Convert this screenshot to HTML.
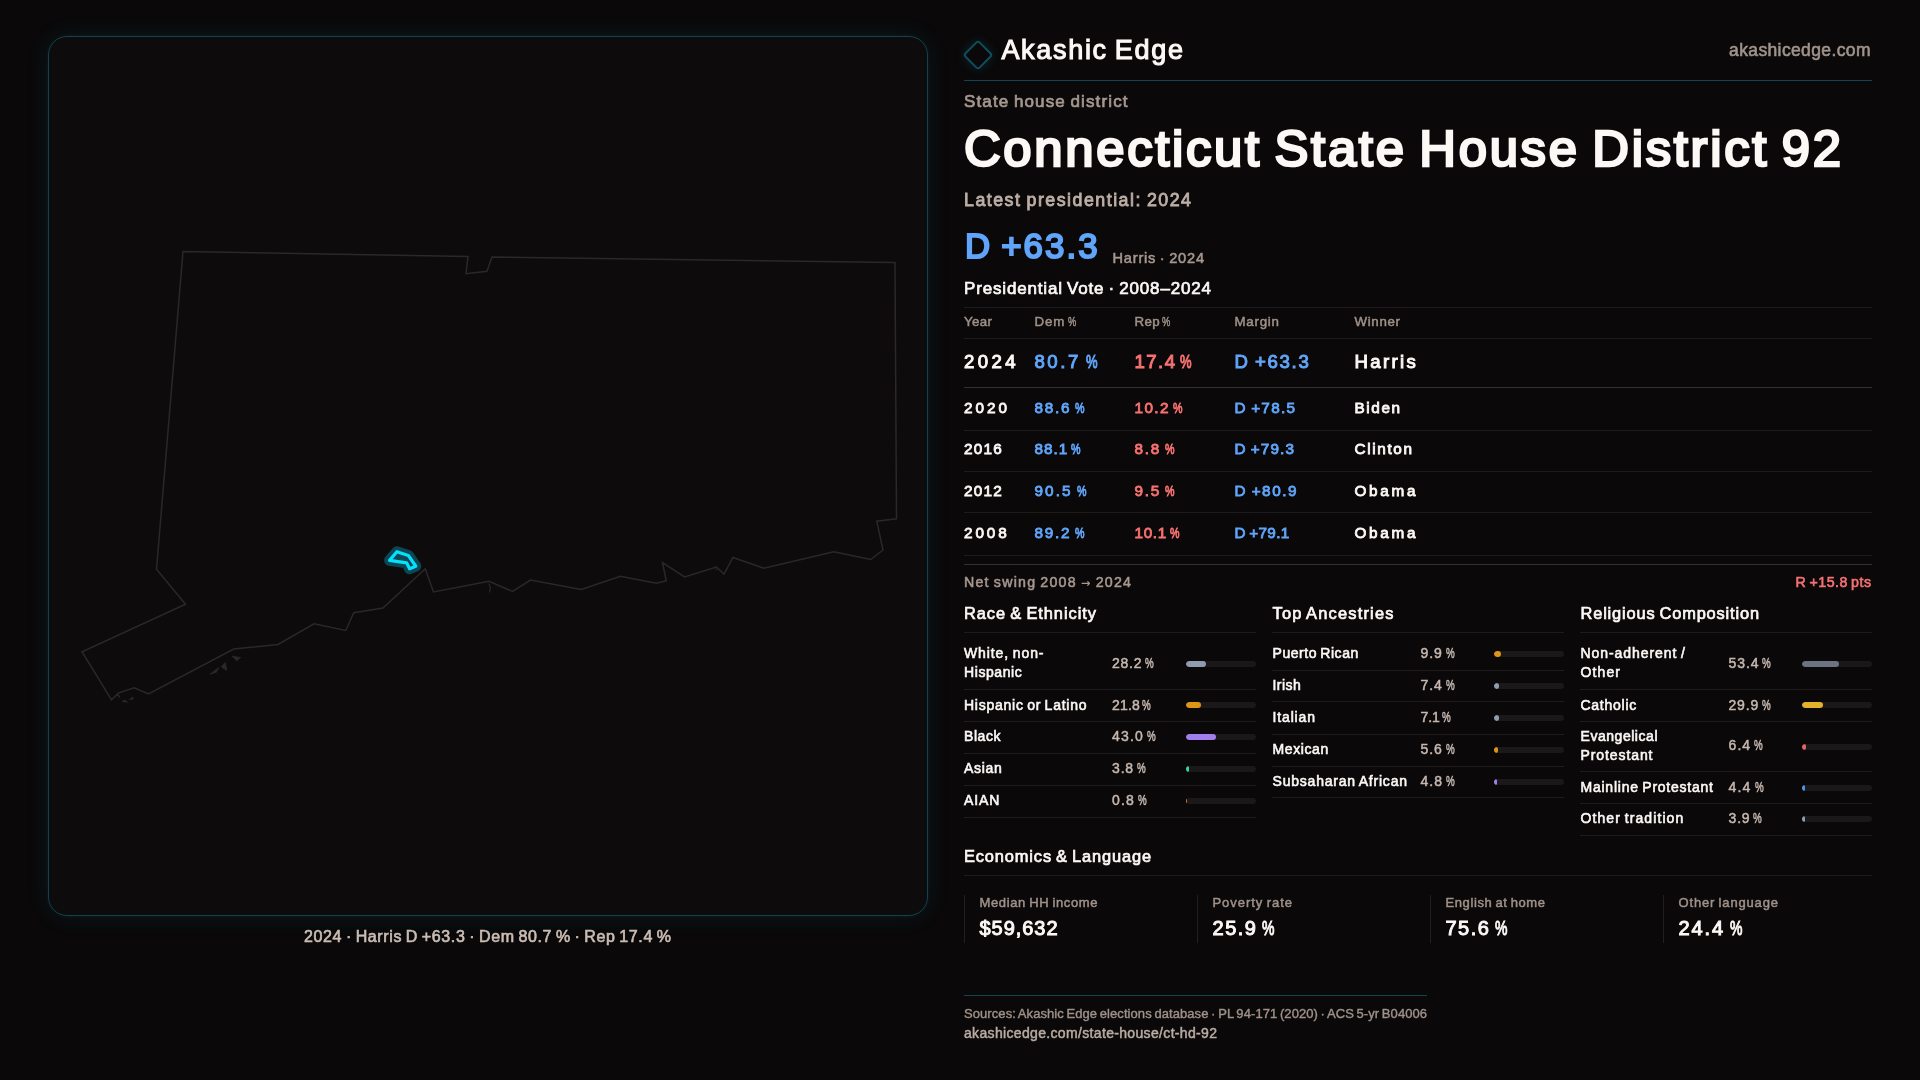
<!DOCTYPE html>
<html lang="en">
<head>
<meta charset="utf-8">
<title>Connecticut State House District 92 · Akashic Edge</title>
<style>
html,body{margin:0;padding:0}
body{width:1920px;height:1080px;overflow:hidden;background:#0a0809;position:relative;font-family:"Liberation Sans", sans-serif;color:#fbf8f5}
.t{position:absolute;white-space:nowrap;line-height:1;margin:0;font-weight:normal;paint-order:stroke fill;word-spacing:-.08em}
.pc{display:inline-block;transform:scaleX(.7);transform-origin:0 50%;margin-right:-.267em}
.ws{word-spacing:-.14em}
.ar{font-family:"DejaVu Sans","Liberation Sans",sans-serif;font-weight:bold;font-size:.8em;-webkit-text-stroke:0;position:relative;top:-.04em}
.ln{position:absolute;height:1px}
.trk{position:absolute;width:70px;height:6px;border-radius:3px;background:#1b1819;overflow:hidden}
.trk i{display:block;height:6px;border-radius:3px}
.cell{position:absolute;top:894.5px;height:48px;width:1px;background:#221f20}
#map{position:absolute;left:48px;top:36px;width:878px;height:878px;border:1px solid #0f4350;border-radius:19px;background:#0d0b0c;box-shadow:0 0 26px rgba(34,211,238,.085),0 0 5px rgba(34,211,238,.06)}
#logo{position:absolute;left:966.7px;top:44px;width:18px;height:18px;border:2px solid #0f4e5d;border-radius:3.5px;transform:rotate(45deg);box-shadow:0 0 12px rgba(34,211,238,.15)}
svg{position:absolute;left:0;top:0}
#root{position:absolute;left:0;top:0;width:1920px;height:1080px;will-change:transform}

</style>
</head>
<body>
<div id="root">
<div id="map"></div>
<svg width="1920" height="1080" viewBox="0 0 1920 1080" fill="none">
<g stroke="#2c2828" stroke-width="1.5" stroke-linejoin="miter" stroke-linecap="butt">
<path d="M183 251.5 L468 256.5 L466 273.75 L487 271.25 L492 257 L895 262.5 L896.5 518.75 L876.75 521.25 L883 550 L870.75 559.5 L833.75 551.75 L763.75 568.25 L733 557.5 L724 574 L716.25 567 L684.5 577 L662.5 562.5 L666.25 581 L656.25 583.25 L620.5 576.25 L581.25 589.5 L530.5 580 L512.5 591.5 L489 581.25 L433.5 592 L425.25 568.75 L383 608 L353.75 612.75 L345.75 630.5 L314 623.75 L278 644.5 L233.75 649 L148.5 694 L134.2 687.7 L118.75 692.9 L111.5 699.9 L82 651.75 L185.5 604.25 L156.5 569.25 Z"/>
<g fill="#2c2828" stroke-width="0.8">
<path d="M232.1 656.2 L240.8 657.5 L236.7 660.8 Z"/>
<path d="M221.2 666.7 L225.4 662.5 L226.7 670.4 Z"/>
<path d="M210 674.2 L218.7 667.5 L216.7 672.1 Z"/>
<path d="M116.2 694.6 L118.7 695 L120 697.5 Z"/>
<path d="M122.1 701.7 L124.2 700 L127.5 702.1 Z"/>
<path d="M129.6 699.6 L132.9 697.1 L133.3 698.8 Z"/>
</g>
<path d="M489 583.5 L490.3 588 L489.6 592.5" stroke-width="1.2"/>
<path d="M715.5 568.5 L716.6 570.5" stroke-width="1"/>
</g>
<g stroke-linejoin="round">
<path d="M396.9 551.7 L408.3 555.4 L415.8 566.25 L409.6 568.75 L406.7 562.9 L389.6 560.4 Z" stroke="#0b4655" stroke-width="11"/>
<path d="M396.9 551.7 L408.3 555.4 L415.8 566.25 L409.6 568.75 L406.7 562.9 L389.6 560.4 Z" fill="#0f4656" stroke="#06e0fb" stroke-width="3.2"/>
</g>
</svg>

<div id="logo"></div>
<div class="ln" style="left:964px;top:79.50px;width:908px;background:#10444f"></div>
<div class="ln" style="left:964px;top:307.00px;width:908px;background:#1e1b1c"></div>
<div class="ln" style="left:964px;top:338.00px;width:908px;background:#1e1b1c"></div>
<div class="ln" style="left:964px;top:386.75px;width:908px;background:#353132"></div>
<div class="ln" style="left:964px;top:430.00px;width:908px;background:#1e1b1c"></div>
<div class="ln" style="left:964px;top:470.75px;width:908px;background:#1e1b1c"></div>
<div class="ln" style="left:964px;top:512.00px;width:908px;background:#1e1b1c"></div>
<div class="ln" style="left:964px;top:555.00px;width:908px;background:#1e1b1c"></div>
<div class="ln" style="left:964px;top:564.00px;width:908px;background:#353132"></div>
<div class="ln" style="left:964px;top:632.00px;width:292px;background:#1e1b1c"></div>
<div class="ln" style="left:1272px;top:632.00px;width:292px;background:#1e1b1c"></div>
<div class="ln" style="left:1580px;top:632.00px;width:292px;background:#1e1b1c"></div>
<div class="ln" style="left:964px;top:688.75px;width:292px;background:#1e1b1c"></div>
<div class="ln" style="left:964px;top:720.75px;width:292px;background:#1e1b1c"></div>
<div class="ln" style="left:964px;top:752.75px;width:292px;background:#1e1b1c"></div>
<div class="ln" style="left:964px;top:784.50px;width:292px;background:#1e1b1c"></div>
<div class="ln" style="left:964px;top:816.50px;width:292px;background:#1e1b1c"></div>
<div class="ln" style="left:1272px;top:669.50px;width:292px;background:#1e1b1c"></div>
<div class="ln" style="left:1272px;top:701.25px;width:292px;background:#1e1b1c"></div>
<div class="ln" style="left:1272px;top:733.50px;width:292px;background:#1e1b1c"></div>
<div class="ln" style="left:1272px;top:765.50px;width:292px;background:#1e1b1c"></div>
<div class="ln" style="left:1272px;top:796.75px;width:292px;background:#1e1b1c"></div>
<div class="ln" style="left:1580px;top:688.75px;width:292px;background:#1e1b1c"></div>
<div class="ln" style="left:1580px;top:720.75px;width:292px;background:#1e1b1c"></div>
<div class="ln" style="left:1580px;top:771.00px;width:292px;background:#1e1b1c"></div>
<div class="ln" style="left:1580px;top:803.25px;width:292px;background:#1e1b1c"></div>
<div class="ln" style="left:1580px;top:834.75px;width:292px;background:#1e1b1c"></div>
<div class="ln" style="left:964px;top:875.00px;width:908px;background:#1e1b1c"></div>
<div class="ln" style="left:964px;top:994.50px;width:463px;background:#10444f"></div>
<div class="cell" style="left:964px"></div>
<div class="cell" style="left:1197px"></div>
<div class="cell" style="left:1430px"></div>
<div class="cell" style="left:1663px"></div>
<div class="trk" style="left:1186px;top:660.75px"><i style="width:19.74px;background:#8e9bb0"></i></div>
<div class="trk" style="left:1186px;top:702.00px"><i style="width:15.26px;background:#de9416"></i></div>
<div class="trk" style="left:1186px;top:734.00px"><i style="width:30.10px;background:#a07fec"></i></div>
<div class="trk" style="left:1186px;top:766.00px"><i style="width:2.66px;background:#34d399"></i></div>
<div class="trk" style="left:1186px;top:798.00px"><i style="width:1.00px;background:#d97706"></i></div>
<div class="trk" style="left:1494px;top:651.00px"><i style="width:6.93px;background:#de9416"></i></div>
<div class="trk" style="left:1494px;top:683.00px"><i style="width:5.18px;background:#8e9bb0"></i></div>
<div class="trk" style="left:1494px;top:715.00px"><i style="width:4.97px;background:#8e9bb0"></i></div>
<div class="trk" style="left:1494px;top:747.00px"><i style="width:3.92px;background:#de9416"></i></div>
<div class="trk" style="left:1494px;top:779.00px"><i style="width:3.36px;background:#a07fec"></i></div>
<div class="trk" style="left:1802px;top:660.75px"><i style="width:37.38px;background:#6b7280"></i></div>
<div class="trk" style="left:1802px;top:702.00px"><i style="width:20.93px;background:#e3b22a"></i></div>
<div class="trk" style="left:1802px;top:743.75px"><i style="width:4.48px;background:#e06666"></i></div>
<div class="trk" style="left:1802px;top:785.25px"><i style="width:3.08px;background:#4f94e8"></i></div>
<div class="trk" style="left:1802px;top:815.75px"><i style="width:2.73px;background:#8e9bb0"></i></div>
<header id="header">
<div class="t" style="font-size:27px;color:#fbf8f5;top:36.94px;left:1001.4px;letter-spacing:1.695px;-webkit-text-stroke:1.1px #fbf8f5;">Akashic Edge</div>
<div class="t" style="font-size:17.5px;color:#a0938c;top:41.79px;right:49.12px;letter-spacing:0.378px;-webkit-text-stroke:0.6px #a0938c;">akashicedge.com</div>
</header>
<section id="summary">
<div class="t" style="font-size:17px;color:#a6978f;top:93.11px;left:964px;letter-spacing:1.139px;-webkit-text-stroke:0.7px #a6978f;">State house district</div>
<h1 class="t" style="font-size:50.8px;color:#fbf8f5;top:123.50px;left:964px;letter-spacing:2.688px;-webkit-text-stroke:2.6px #fbf8f5;">Connecticut State House District 92</h1>
<div class="t" style="font-size:17.8px;color:#bdaea6;top:192.43px;left:964px;letter-spacing:1.504px;-webkit-text-stroke:0.85px #bdaea6;">Latest presidential: 2024</div>
<div class="t" style="font-size:34.8px;color:#60a5fa;top:229.29px;left:965px;letter-spacing:2.073px;-webkit-text-stroke:2.0px #60a5fa;">D +63.3</div>
<div class="t" style="font-size:14.6px;color:#a6978f;top:250.89px;left:1112.5px;letter-spacing:0.790px;-webkit-text-stroke:0.55px #a6978f;">Harris · 2024</div>
</section>
<section id="presidential">
<h2 class="t" style="font-size:17px;color:#fbf8f5;top:280.11px;left:964px;letter-spacing:0.832px;-webkit-text-stroke:0.7px #fbf8f5;">Presidential Vote · 2008–2024</h2>
<div class="t" style="font-size:13.3px;color:#9f9189;top:315.49px;left:964px;letter-spacing:0.375px;-webkit-text-stroke:0.5px #9f9189;">Year</div>
<div class="t ws" style="font-size:13.3px;color:#9f9189;top:315.49px;left:1034.5px;letter-spacing:0.824px;-webkit-text-stroke:0.5px #9f9189;">Dem <span class="pc">%</span></div>
<div class="t ws" style="font-size:13.3px;color:#9f9189;top:315.49px;left:1134.5px;letter-spacing:0.371px;-webkit-text-stroke:0.5px #9f9189;">Rep <span class="pc">%</span></div>
<div class="t" style="font-size:13.3px;color:#9f9189;top:315.49px;left:1234.5px;letter-spacing:0.769px;-webkit-text-stroke:0.5px #9f9189;">Margin</div>
<div class="t" style="font-size:13.3px;color:#9f9189;top:315.49px;left:1354.5px;letter-spacing:0.675px;-webkit-text-stroke:0.5px #9f9189;">Winner</div>
<div class="t" style="font-size:18.6px;color:#fbf8f5;top:353.01px;left:964px;letter-spacing:3.375px;-webkit-text-stroke:1.0px #fbf8f5;">2024</div>
<div class="t ws" style="font-size:18.6px;color:#60a5fa;top:353.01px;left:1034.5px;letter-spacing:2.528px;-webkit-text-stroke:1.0px #60a5fa;">80.7 <span class="pc">%</span></div>
<div class="t ws" style="font-size:18.6px;color:#f87171;top:353.01px;left:1134.5px;letter-spacing:1.428px;-webkit-text-stroke:1.0px #f87171;">17.4 <span class="pc">%</span></div>
<div class="t" style="font-size:18.6px;color:#60a5fa;top:353.01px;left:1234.5px;letter-spacing:1.682px;-webkit-text-stroke:1.0px #60a5fa;">D +63.3</div>
<div class="t" style="font-size:18.6px;color:#fbf8f5;top:353.01px;left:1354.5px;letter-spacing:2.331px;-webkit-text-stroke:1.0px #fbf8f5;">Harris</div>
<div class="t" style="font-size:15.3px;color:#fbf8f5;top:399.55px;left:964px;letter-spacing:2.990px;-webkit-text-stroke:0.85px #fbf8f5;">2020</div>
<div class="t ws" style="font-size:15.3px;color:#60a5fa;top:399.55px;left:1034.5px;letter-spacing:1.716px;-webkit-text-stroke:0.85px #60a5fa;">88.6 <span class="pc">%</span></div>
<div class="t ws" style="font-size:15.3px;color:#f87171;top:399.55px;left:1134.5px;letter-spacing:1.416px;-webkit-text-stroke:0.85px #f87171;">10.2 <span class="pc">%</span></div>
<div class="t" style="font-size:15.3px;color:#60a5fa;top:399.55px;left:1234.5px;letter-spacing:1.286px;-webkit-text-stroke:0.85px #60a5fa;">D +78.5</div>
<div class="t" style="font-size:15.3px;color:#fbf8f5;top:399.55px;left:1354.5px;letter-spacing:1.594px;-webkit-text-stroke:0.85px #fbf8f5;">Biden</div>
<div class="t" style="font-size:15.3px;color:#fbf8f5;top:440.55px;left:964px;letter-spacing:1.240px;-webkit-text-stroke:0.85px #fbf8f5;">2016</div>
<div class="t ws" style="font-size:15.3px;color:#60a5fa;top:440.55px;left:1034.5px;letter-spacing:1.016px;-webkit-text-stroke:0.85px #60a5fa;">88.1 <span class="pc">%</span></div>
<div class="t ws" style="font-size:15.3px;color:#f87171;top:440.55px;left:1134.5px;letter-spacing:1.711px;-webkit-text-stroke:0.85px #f87171;">8.8 <span class="pc">%</span></div>
<div class="t" style="font-size:15.3px;color:#60a5fa;top:440.55px;left:1234.5px;letter-spacing:1.120px;-webkit-text-stroke:0.85px #60a5fa;">D +79.3</div>
<div class="t" style="font-size:15.3px;color:#fbf8f5;top:440.55px;left:1354.5px;letter-spacing:1.646px;-webkit-text-stroke:0.85px #fbf8f5;">Clinton</div>
<div class="t" style="font-size:15.3px;color:#fbf8f5;top:483.05px;left:964px;letter-spacing:1.240px;-webkit-text-stroke:0.85px #fbf8f5;">2012</div>
<div class="t ws" style="font-size:15.3px;color:#60a5fa;top:483.05px;left:1034.5px;letter-spacing:2.116px;-webkit-text-stroke:0.85px #60a5fa;">90.5 <span class="pc">%</span></div>
<div class="t ws" style="font-size:15.3px;color:#f87171;top:483.05px;left:1134.5px;letter-spacing:1.711px;-webkit-text-stroke:0.85px #f87171;">9.5 <span class="pc">%</span></div>
<div class="t" style="font-size:15.3px;color:#60a5fa;top:483.05px;left:1234.5px;letter-spacing:1.536px;-webkit-text-stroke:0.85px #60a5fa;">D +80.9</div>
<div class="t" style="font-size:15.3px;color:#fbf8f5;top:483.05px;left:1354.5px;letter-spacing:2.707px;-webkit-text-stroke:0.85px #fbf8f5;">Obama</div>
<div class="t" style="font-size:15.3px;color:#fbf8f5;top:525.05px;left:964px;letter-spacing:2.906px;-webkit-text-stroke:0.85px #fbf8f5;">2008</div>
<div class="t ws" style="font-size:15.3px;color:#60a5fa;top:525.05px;left:1034.5px;letter-spacing:1.716px;-webkit-text-stroke:0.85px #60a5fa;">89.2 <span class="pc">%</span></div>
<div class="t ws" style="font-size:15.3px;color:#f87171;top:525.05px;left:1134.5px;letter-spacing:0.666px;-webkit-text-stroke:0.85px #f87171;">10.1 <span class="pc">%</span></div>
<div class="t" style="font-size:15.3px;color:#60a5fa;top:525.05px;left:1234.5px;letter-spacing:0.328px;-webkit-text-stroke:0.85px #60a5fa;">D +79.1</div>
<div class="t" style="font-size:15.3px;color:#fbf8f5;top:525.05px;left:1354.5px;letter-spacing:2.707px;-webkit-text-stroke:0.85px #fbf8f5;">Obama</div>
<div class="t" style="font-size:14.2px;color:#a6978f;top:575.48px;left:964px;letter-spacing:1.238px;-webkit-text-stroke:0.55px #a6978f;">Net swing 2008 <span class="ar">→</span> 2024</div>
<div class="t" style="font-size:14.2px;color:#f87171;top:575.48px;right:48.52px;letter-spacing:0.481px;-webkit-text-stroke:0.6px #f87171;">R +15.8 pts</div>
</section>
<section id="race">
<h2 class="t" style="font-size:16.4px;color:#fbf8f5;top:604.62px;left:964px;letter-spacing:0.958px;-webkit-text-stroke:0.7px #fbf8f5;">Race &amp; Ethnicity</h2>
<div class="t" style="font-size:14px;color:#fbf8f5;top:645.90px;left:964px;letter-spacing:0.903px;-webkit-text-stroke:0.6px #fbf8f5;">White, non-</div>
<div class="t" style="font-size:14px;color:#fbf8f5;top:664.65px;left:964px;letter-spacing:0.578px;-webkit-text-stroke:0.6px #fbf8f5;">Hispanic</div>
<div class="t ws" style="font-size:14px;color:#c6b8b0;top:656.15px;left:1112px;letter-spacing:0.769px;-webkit-text-stroke:0.5px #c6b8b0;">28.2 <span class="pc">%</span></div>
<div class="t" style="font-size:14px;color:#fbf8f5;top:698.15px;left:964px;letter-spacing:0.745px;-webkit-text-stroke:0.6px #fbf8f5;">Hispanic or Latino</div>
<div class="t ws" style="font-size:14px;color:#c6b8b0;top:698.15px;left:1112px;letter-spacing:0.169px;-webkit-text-stroke:0.5px #c6b8b0;">21.8 <span class="pc">%</span></div>
<div class="t" style="font-size:14px;color:#fbf8f5;top:728.90px;left:964px;letter-spacing:0.566px;-webkit-text-stroke:0.6px #fbf8f5;">Black</div>
<div class="t ws" style="font-size:14px;color:#c6b8b0;top:728.90px;left:1112px;letter-spacing:1.169px;-webkit-text-stroke:0.5px #c6b8b0;">43.0 <span class="pc">%</span></div>
<div class="t" style="font-size:14px;color:#fbf8f5;top:760.90px;left:964px;letter-spacing:0.680px;-webkit-text-stroke:0.6px #fbf8f5;">Asian</div>
<div class="t ws" style="font-size:14px;color:#c6b8b0;top:760.90px;left:1112px;letter-spacing:0.844px;-webkit-text-stroke:0.5px #c6b8b0;">3.8 <span class="pc">%</span></div>
<div class="t" style="font-size:14px;color:#fbf8f5;top:792.65px;left:964px;letter-spacing:0.854px;-webkit-text-stroke:0.6px #fbf8f5;">AIAN</div>
<div class="t ws" style="font-size:14px;color:#c6b8b0;top:792.65px;left:1112px;letter-spacing:1.219px;-webkit-text-stroke:0.5px #c6b8b0;">0.8 <span class="pc">%</span></div>
</section>
<section id="ancestry">
<h2 class="t" style="font-size:16.4px;color:#fbf8f5;top:604.62px;left:1272.5px;letter-spacing:1.208px;-webkit-text-stroke:0.7px #fbf8f5;">Top Ancestries</h2>
<div class="t" style="font-size:14px;color:#fbf8f5;top:645.65px;left:1272.5px;letter-spacing:0.540px;-webkit-text-stroke:0.6px #fbf8f5;">Puerto Rican</div>
<div class="t ws" style="font-size:14px;color:#c6b8b0;top:645.65px;left:1420.5px;letter-spacing:0.906px;-webkit-text-stroke:0.5px #c6b8b0;">9.9 <span class="pc">%</span></div>
<div class="t" style="font-size:14px;color:#fbf8f5;top:677.65px;left:1272.5px;letter-spacing:0.449px;-webkit-text-stroke:0.6px #fbf8f5;">Irish</div>
<div class="t ws" style="font-size:14px;color:#c6b8b0;top:677.65px;left:1420.5px;letter-spacing:0.906px;-webkit-text-stroke:0.5px #c6b8b0;">7.4 <span class="pc">%</span></div>
<div class="t" style="font-size:14px;color:#fbf8f5;top:709.65px;left:1272.5px;letter-spacing:0.857px;-webkit-text-stroke:0.6px #fbf8f5;">Italian</div>
<div class="t ws" style="font-size:14px;color:#c6b8b0;top:709.65px;left:1420.5px;letter-spacing:-0.031px;-webkit-text-stroke:0.5px #c6b8b0;">7.1 <span class="pc">%</span></div>
<div class="t" style="font-size:14px;color:#fbf8f5;top:741.65px;left:1272.5px;letter-spacing:0.602px;-webkit-text-stroke:0.6px #fbf8f5;">Mexican</div>
<div class="t ws" style="font-size:14px;color:#c6b8b0;top:741.65px;left:1420.5px;letter-spacing:0.906px;-webkit-text-stroke:0.5px #c6b8b0;">5.6 <span class="pc">%</span></div>
<div class="t" style="font-size:14px;color:#fbf8f5;top:773.65px;left:1272.5px;letter-spacing:0.790px;-webkit-text-stroke:0.6px #fbf8f5;">Subsaharan African</div>
<div class="t ws" style="font-size:14px;color:#c6b8b0;top:773.65px;left:1420.5px;letter-spacing:1.031px;-webkit-text-stroke:0.5px #c6b8b0;">4.8 <span class="pc">%</span></div>
</section>
<section id="religion">
<h2 class="t" style="font-size:16.4px;color:#fbf8f5;top:604.62px;left:1580.5px;letter-spacing:0.837px;-webkit-text-stroke:0.7px #fbf8f5;">Religious Composition</h2>
<div class="t" style="font-size:14px;color:#fbf8f5;top:645.90px;left:1580.5px;letter-spacing:0.940px;-webkit-text-stroke:0.6px #fbf8f5;">Non-adherent /</div>
<div class="t" style="font-size:14px;color:#fbf8f5;top:664.65px;left:1580.5px;letter-spacing:1.121px;-webkit-text-stroke:0.6px #fbf8f5;">Other</div>
<div class="t ws" style="font-size:14px;color:#c6b8b0;top:656.15px;left:1728.5px;letter-spacing:0.919px;-webkit-text-stroke:0.5px #c6b8b0;">53.4 <span class="pc">%</span></div>
<div class="t" style="font-size:14px;color:#fbf8f5;top:698.15px;left:1580.5px;letter-spacing:0.737px;-webkit-text-stroke:0.6px #fbf8f5;">Catholic</div>
<div class="t ws" style="font-size:14px;color:#c6b8b0;top:698.15px;left:1728.5px;letter-spacing:0.819px;-webkit-text-stroke:0.5px #c6b8b0;">29.9 <span class="pc">%</span></div>
<div class="t" style="font-size:14px;color:#fbf8f5;top:728.90px;left:1580.5px;letter-spacing:0.539px;-webkit-text-stroke:0.6px #fbf8f5;">Evangelical</div>
<div class="t" style="font-size:14px;color:#fbf8f5;top:747.65px;left:1580.5px;letter-spacing:0.908px;-webkit-text-stroke:0.6px #fbf8f5;">Protestant</div>
<div class="t ws" style="font-size:14px;color:#c6b8b0;top:737.65px;left:1728.5px;letter-spacing:1.094px;-webkit-text-stroke:0.5px #c6b8b0;">6.4 <span class="pc">%</span></div>
<div class="t" style="font-size:14px;color:#fbf8f5;top:779.65px;left:1580.5px;letter-spacing:0.765px;-webkit-text-stroke:0.6px #fbf8f5;">Mainline Protestant</div>
<div class="t ws" style="font-size:14px;color:#c6b8b0;top:779.65px;left:1728.5px;letter-spacing:1.219px;-webkit-text-stroke:0.5px #c6b8b0;">4.4 <span class="pc">%</span></div>
<div class="t" style="font-size:14px;color:#fbf8f5;top:810.90px;left:1580.5px;letter-spacing:1.083px;-webkit-text-stroke:0.6px #fbf8f5;">Other tradition</div>
<div class="t ws" style="font-size:14px;color:#c6b8b0;top:810.90px;left:1728.5px;letter-spacing:0.844px;-webkit-text-stroke:0.5px #c6b8b0;">3.9 <span class="pc">%</span></div>
</section>
<section id="economics">
<h2 class="t" style="font-size:16.4px;color:#fbf8f5;top:847.62px;left:964px;letter-spacing:0.868px;-webkit-text-stroke:0.7px #fbf8f5;">Economics &amp; Language</h2>
<div class="t" style="font-size:13px;color:#9f9189;top:896.00px;left:979.5px;letter-spacing:0.635px;-webkit-text-stroke:0.5px #9f9189;">Median HH income</div>
<div class="t" style="font-size:20px;color:#fbf8f5;top:918.32px;left:979.5px;letter-spacing:0.951px;-webkit-text-stroke:1.0px #fbf8f5;">$59,632</div>
<div class="t" style="font-size:13px;color:#9f9189;top:896.00px;left:1212.5px;letter-spacing:0.950px;-webkit-text-stroke:0.5px #9f9189;">Poverty rate</div>
<div class="t ws" style="font-size:20px;color:#fbf8f5;top:918.32px;left:1212.5px;letter-spacing:1.519px;-webkit-text-stroke:1.0px #fbf8f5;">25.9 <span class="pc">%</span></div>
<div class="t" style="font-size:13px;color:#9f9189;top:896.00px;left:1445.5px;letter-spacing:0.596px;-webkit-text-stroke:0.5px #9f9189;">English at home</div>
<div class="t ws" style="font-size:20px;color:#fbf8f5;top:918.32px;left:1445.5px;letter-spacing:1.469px;-webkit-text-stroke:1.0px #fbf8f5;">75.6 <span class="pc">%</span></div>
<div class="t" style="font-size:13px;color:#9f9189;top:896.00px;left:1678.5px;letter-spacing:0.839px;-webkit-text-stroke:0.5px #9f9189;">Other language</div>
<div class="t ws" style="font-size:20px;color:#fbf8f5;top:918.32px;left:1678.5px;letter-spacing:1.869px;-webkit-text-stroke:1.0px #fbf8f5;">24.4 <span class="pc">%</span></div>
</section>
<footer id="sources">
<div class="t" style="font-size:13px;color:#9f9189;top:1007.00px;left:964px;letter-spacing:0.073px;-webkit-text-stroke:0.4px #9f9189;">Sources: Akashic Edge elections database · PL 94-171 (2020) · ACS 5-yr B04006</div>
<div class="t" style="font-size:14px;color:#b9aba2;top:1025.90px;left:964px;letter-spacing:0.336px;-webkit-text-stroke:0.5px #b9aba2;">akashicedge.com/state-house/ct-hd-92</div>
</footer>
<figcaption id="mapcaption">
<div class="t" style="font-size:16px;color:#cbbdb4;top:929.46px;left:487.5px;transform:translateX(-50%);margin-left:0.31px;letter-spacing:0.627px;-webkit-text-stroke:0.65px #cbbdb4;">2024 · Harris D +63.3 · Dem 80.7 % · Rep 17.4 %</div>
</figcaption>
</div>
</body>
</html>
